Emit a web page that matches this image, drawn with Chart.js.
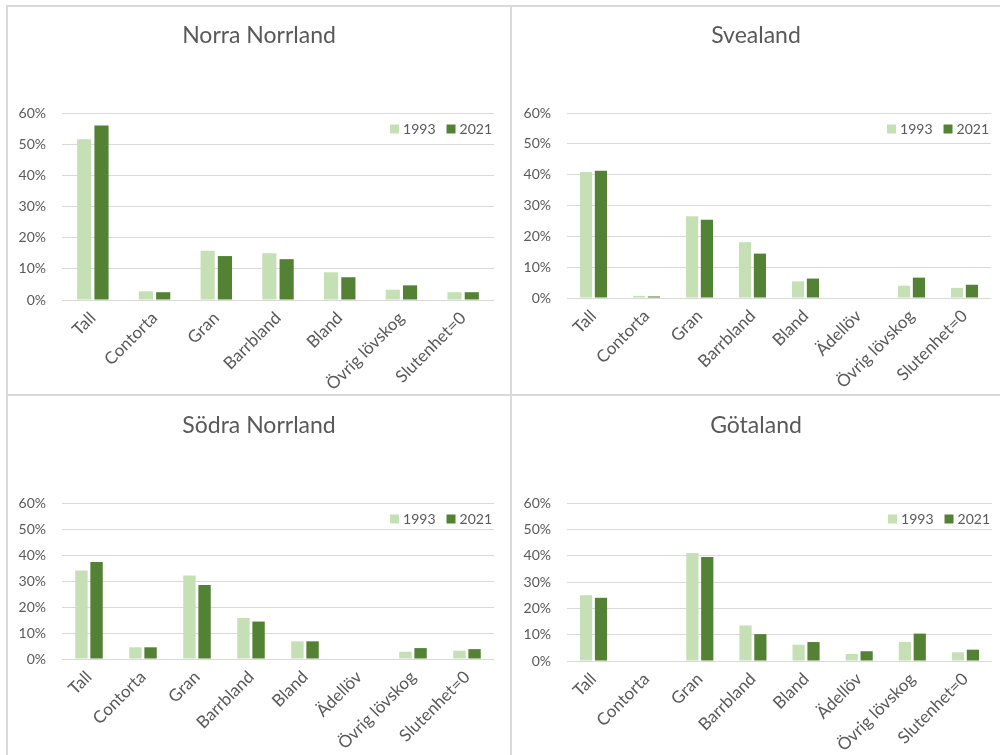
<!DOCTYPE html>
<html>
<head>
<meta charset="utf-8">
<script src="https://cdn.jsdelivr.net/npm/chart.js@4/dist/chart.umd.min.js"></script>
<style>
  body { margin: 0; background: #fff; width: 1000px; height: 755px; overflow: hidden; position: relative; }
  .line { position: absolute; background: #d9d9d9; }
  canvas { position: absolute; }
</style>
</head>
<body>
<div class="line" style="left:6px;top:5px;width:994px;height:2px"></div>
<div class="line" style="left:6px;top:5px;width:2px;height:750px"></div>
<div class="line" style="left:510px;top:5px;width:2px;height:750px"></div>
<div class="line" style="left:6px;top:394px;width:994px;height:2px"></div>

<canvas id="cNorra" style="left:8px;top:7px"></canvas>
<canvas id="cSvea" style="left:512px;top:7px"></canvas>
<canvas id="cSodra" style="left:8px;top:396px"></canvas>
<canvas id="cGota" style="left:512px;top:396px"></canvas>

<script>
// --- Data ---
const years = ['1993', '2021'];
const catsNorra = ['Tall', 'Contorta', 'Gran', 'Barrbland', 'Bland', 'Övrig lövskog', 'Slutenhet=0'];
const catsAll = ['Tall', 'Contorta', 'Gran', 'Barrbland', 'Bland', 'Ädellöv', 'Övrig lövskog', 'Slutenhet=0'];

const norra1993 = [0.516, 0.028, 0.158, 0.150, 0.089, 0.033, 0.025];
const norra2021 = [0.560, 0.025, 0.141, 0.131, 0.073, 0.047, 0.025];

const svea1993 = [0.409, 0.007, 0.265, 0.181, 0.054, 0, 0.040, 0.033];
const svea2021 = [0.413, 0.005, 0.254, 0.144, 0.063, 0, 0.066, 0.043];

const sodra1993 = [0.340, 0.045, 0.321, 0.158, 0.068, 0, 0.028, 0.032];
const sodra2021 = [0.373, 0.045, 0.285, 0.144, 0.068, 0, 0.042, 0.038];

const gota1993 = [0.250, 0, 0.410, 0.135, 0.062, 0.027, 0.072, 0.033];
const gota2021 = [0.240, 0, 0.395, 0.102, 0.072, 0.037, 0.104, 0.043];

const yTicks = [0, 0.1, 0.2, 0.3, 0.4, 0.5, 0.6];

// --- Common ---
const lightGreen = '#c5e0b4';
const darkGreen = '#548235';
const textGrey = '#595959';
const gridGrey = '#d9d9d9';
const fontFam = 'Lato, "Noto Sans", sans-serif';

// legend drawn inside the plot, top right (like Excel)
const insideLegend = {
    id: 'insideLegend',
    afterDraw(chart) {
        const ctx = chart.ctx;
        const area = chart.chartArea;
        const off = chart.options.plugins.insideLegend || {};
        ctx.save();
        ctx.font = '14px ' + fontFam;
        ctx.textBaseline = 'middle';
        ctx.textAlign = 'left';
        const y = area.top + (off.dy || 16);
        let x = area.right - (off.dx || 2);
        chart.data.datasets.slice().reverse().forEach(ds => {
            x -= ctx.measureText(ds.label).width;
            ctx.fillStyle = textGrey;
            ctx.fillText(ds.label, x, y);
            x -= 13;
            ctx.fillStyle = ds.backgroundColor;
            ctx.fillRect(x, y - 4.5, 9, 9);
            x -= 11;
        });
        ctx.restore();
    }
};

function makeChart(id, w, h, title, cats, a, b, box) {
    const cv = document.getElementById(id);
    cv.width = w; cv.height = h;
    cv.style.width = w + 'px'; cv.style.height = h + 'px';
    return new Chart(cv, {
        type: 'bar',
        data: {
            labels: cats,
            datasets: [
                { label: years[0], data: a, backgroundColor: lightGreen, categoryPercentage: 0.56, barPercentage: 0.82 },
                { label: years[1], data: b, backgroundColor: darkGreen, categoryPercentage: 0.56, barPercentage: 0.82 }
            ]
        },
        plugins: [insideLegend],
        options: {
            responsive: false,
            animation: false,
            layout: { padding: 0 },
            scales: {
                x: {
                    grid: { display: false, drawTicks: false },
                    border: { display: false },
                    ticks: { color: textGrey, font: { family: fontFam, size: 17 }, minRotation: 45, maxRotation: 45, padding: 8, autoSkip: false },
                    afterFit: s => { s.height = box.xh; }
                },
                y: {
                    min: 0, max: 0.6,
                    afterBuildTicks: s => { s.ticks = yTicks.map(v => ({ value: v })); },
                    grid: { color: gridGrey, lineWidth: 1, drawTicks: false },
                    border: { display: false },
                    ticks: { color: textGrey, font: { family: fontFam, size: 14 }, padding: 16,
                        callback: v => Math.round(v * 100) + '%' },
                    afterFit: s => { s.width = box.left; }
                },
                // empty right axis, only keeps the plot off the right edge
                yPad: {
                    position: 'right', min: 0, max: 1,
                    grid: { display: false, drawTicks: false },
                    border: { display: false },
                    ticks: { display: false },
                    afterFit: s => { s.width = box.right; }
                }
            },
            plugins: {
                title: {
                    display: true, text: title, color: textGrey,
                    font: { family: fontFam, size: 23, weight: 'normal' },
                    padding: { top: box.tt, bottom: box.tb }
                },
                legend: { display: false },
                insideLegend: { dy: 16, dx: 2 },
                tooltip: { enabled: false }
            }
        }
    });
}

// plot top sits at 106 px inside the top canvases, 107 in the bottom ones
makeChart('cNorra', 502, 387, 'Norra Norrland', catsNorra, norra1993, norra2021, { left: 54, right: 16, xh: 94, tt: 15, tb: 63.4 });
makeChart('cSvea', 488, 387, 'Svealand', catsAll, svea1993, svea2021, { left: 55, right: 9, xh: 96, tt: 15, tb: 63.4 });
makeChart('cSodra', 502, 359, 'Södra Norrland', catsAll, sodra1993, sodra2021, { left: 54, right: 16, xh: 96, tt: 16, tb: 63.4 });
makeChart('cGota', 488, 359, 'Götaland', catsAll, gota1993, gota2021, { left: 55, right: 8, xh: 94, tt: 16, tb: 63.4 });
</script>
</body>
</html>
